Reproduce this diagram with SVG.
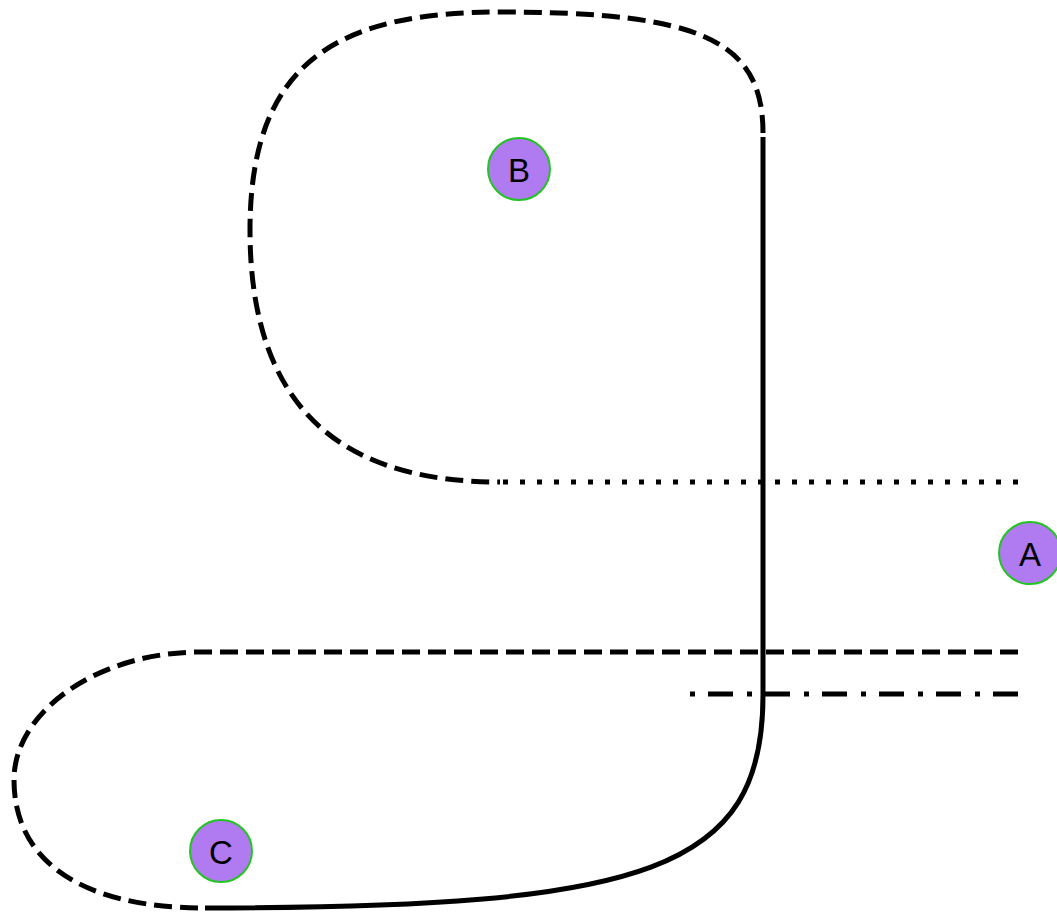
<svg xmlns="http://www.w3.org/2000/svg" width="1057" height="913" viewBox="0 0 1057 913">
<style>
.node circle{fill:#b07af0;stroke:#22c422;stroke-width:2}
.node text{font-family:"Liberation Sans",Arial,sans-serif;font-size:33px;fill:#000;text-anchor:middle;dominant-baseline:central}
.e{fill:none;stroke:#000;stroke-width:5}
.dash{stroke-dasharray:18 8}
.dot{stroke-dasharray:5 12}
.dashdot{stroke-dasharray:25 13 5 14}
</style>
<rect width="1057" height="913" fill="#fff"/>
<g id="connectors">
<path class="e dot" d="M1018 482 H500"/>
<path class="e dash" d="M763 133 C763 40 700 12 500 12 C340 12 250 60 250 230 C250 425 360 482 500 482"/>
<path class="e" d="M763 137 V695 C763 870 650 908 205 908"/>
<path class="e dash" d="M1018 652 H200 C100 652 14 710 14 780 C14 860 80 908 205 908"/>
<path class="e dashdot" d="M1018 694 H687"/>
</g>
<g id="node-B" class="node"><circle cx="519" cy="169" r="31"/><text x="519" y="170">B</text></g>
<g id="node-A" class="node"><circle cx="1030" cy="553" r="31"/><text x="1030" y="554">A</text></g>
<g id="node-C" class="node"><circle cx="221" cy="851" r="31"/><text x="221" y="852">C</text></g>
</svg>
